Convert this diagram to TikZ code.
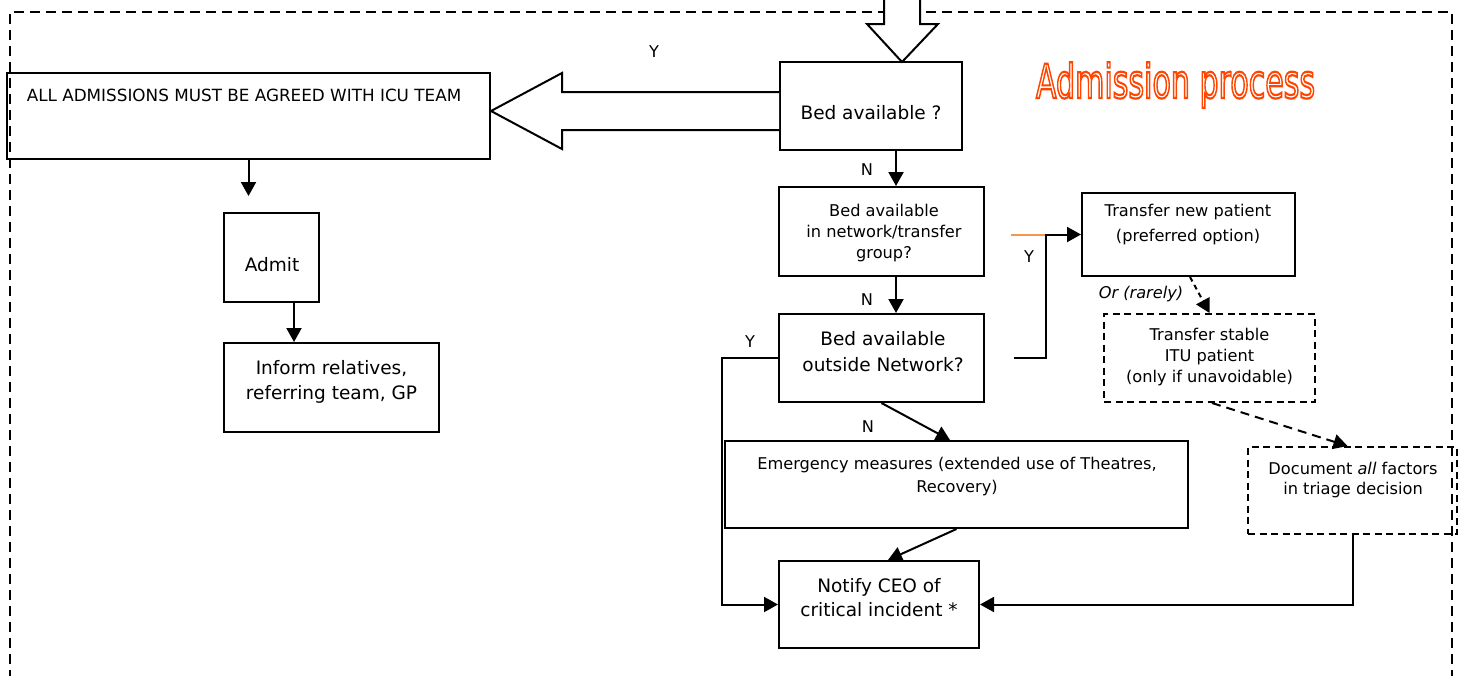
\documentclass[tikz,border=0pt]{standalone}
\usepackage{fontspec}
\setmainfont{DejaVu Sans}
\usetikzlibrary{arrows.meta,positioning}
\definecolor{titlered}{RGB}{255,69,0}
\definecolor{stuborange}{RGB}{247,150,70}
\newcommand\hollowtext[1]{\special{pdf:literal direct 1 Tr 2.2 w}#1\special{pdf:literal direct 0 Tr}}

\begin{document}
\begin{tikzpicture}[x=1pt,y=-1pt,
	box/.style={draw, line width=2pt, inner sep=0},
	dbox/.style={box, dash pattern=on 7pt off 4.5pt},
	txt/.style={align=center, inner sep=0, font=\fontsize{18.5}{25}\selectfont},
	smalltxt/.style={txt, font=\fontsize{16.2}{21}\selectfont},
	arr/.style={line width=2pt, -{Triangle[length=14pt,width=15pt]}},
	bigarrow/.style={line width=2pt, fill=white, line join=miter}]
	\useasboundingbox (0,0) rectangle (1463,675);
	\draw[line width=2.2pt, dash pattern=on 10pt off 6pt] (10,680) -- (10,12) -- (1452,12) -- (1452,680);

	\node[box, minimum width=483, minimum height=86] (allbox) at (248.5,116) {};
	\node[smalltxt, font=\fontsize{16.8}{21}\selectfont] (alltxt) at (244,95) {ALL ADMISSIONS MUST BE AGREED WITH ICU TEAM};
	\node[box, minimum width=95, minimum height=89] (admit) at (271.5,257.5) {};
	\node[txt] (admittxt) at (272,265) {Admit};
	\node[box, minimum width=215, minimum height=89] (inform) at (331.5,387.5) {};
	\node[txt] (informtxt) at (331.5,381.5) {Inform relatives,\\referring team, GP};

	\node[box, minimum width=182, minimum height=88] (bed) at (871,106) {};
	\node[txt] (bedtxt) at (871,113) {Bed available ?};
	\node[box, minimum width=205, minimum height=89] (bednet) at (881.5,231.5) {};
	\node[smalltxt] (bednettxt) at (884,233) {Bed available\\in network/transfer\\group?};
	\node[box, minimum width=205, minimum height=88] (bedout) at (881.5,358) {};
	\node[txt, font=\fontsize{18.5}{26}\selectfont] (bedouttxt) at (883,352) {Bed available\\outside Network?};
	\node[box, minimum width=463, minimum height=87] (emerg) at (956.5,484.5) {};
	\node[smalltxt, font=\fontsize{16.2}{23}\selectfont] (emergtxt) at (957,476.5) {Emergency measures (extended use of Theatres,\\Recovery)};
	\node[box, minimum width=200, minimum height=87] (notify) at (879,604.5) {};
	\node[txt, font=\fontsize{18.5}{24}\selectfont] (notifytxt) at (879,598) {Notify CEO of\\critical incident *};

	\node[box, minimum width=213, minimum height=83] (trnew) at (1188.5,234.5) {};
	\node[smalltxt, font=\fontsize{16.2}{25}\selectfont] (trnewtxt) at (1188,224.5) {Transfer new patient\\(preferred option)};
	\node[dbox, minimum width=211, minimum height=88] (trstable) at (1209.5,358) {};
	\node[smalltxt] (trstabletxt) at (1209.5,357.5) {Transfer stable\\ITU patient\\(only if unavoidable)};
	\node[dbox, minimum width=209, minimum height=87] (doc) at (1352.5,490.5) {};
	\node[smalltxt, font=\fontsize{16.2}{20}\selectfont] (doctxt) at (1353,480) {Document \textit{all} factors\\in triage decision};

	\node[anchor=base, xscale=0.64, text=titlered, font=\fontsize{47}{50}\selectfont] (title) at (1175.5,98) {\hollowtext{Admission process}};

	% big arrows
	\draw[bigarrow] (884,-2) -- (884,24) -- (867,24) -- (902,62) -- (938,24) -- (920,24) -- (920,-2);
	\draw[bigarrow] (bed.west |- 0,92) -- (562,92) -- (562,73) -- (allbox.east |- 0,111) -- (562,149) -- (562,130) -- (bed.west |- 0,130);
	\node[smalltxt] (yall) at (654,52) {Y};

	\draw[arr] (allbox.south) -- ([yshift=16]allbox.south |- admit.north);
	\draw[arr] ([xshift=22.5]admit.south) -- ([xshift=22.5]admit.south |- inform.north);

	\draw[arr] ([xshift=25]bed.south) -- ([xshift=25]bed.south |- bednet.north);
	\node[smalltxt] (n1) at (867,170) {N};
	\draw[arr] ([xshift=14.5]bednet.south) -- ([xshift=14.5]bednet.south |- bedout.north);
	\node[smalltxt] (n2) at (867,300) {N};
	\draw[arr] (bedout.south) -- ([xshift=-6.5]emerg.north);
	\node[smalltxt] (n3) at (868,427) {N};
	\draw[arr] (emerg.south) -- ([xshift=9]notify.north);
	\draw[arr] (bedout.west) -- ++(-56,0) |- (notify.west);
	\node[smalltxt] (yout) at (750,342) {Y};

	\coordinate (ystart) at ([xshift=29]bedout.east);
	\coordinate (yjoin) at (1046,358);
	\draw[arr] (ystart) -- (yjoin) |- (trnew.west);
	\draw[stuborange, line width=2pt] ([xshift=-70]trnew.west) -- ([xshift=-36]trnew.west);
	\node[smalltxt] (ynet) at (1029,257) {Y};

	\draw[arr, dash pattern=on 5pt off 4pt] ([xshift=1.5]trnew.south) -- (trstable.north);
	\node[smalltxt] (rarely) at (1141,294) {\textit{Or (rarely)}};
	\draw[arr, dash pattern=on 9pt off 6pt] ([xshift=2.5]trstable.south) -- ([xshift=-5]doc.north);
	\draw[arr] (doc.south) |- (notify.east);
\end{tikzpicture}
\end{document}
